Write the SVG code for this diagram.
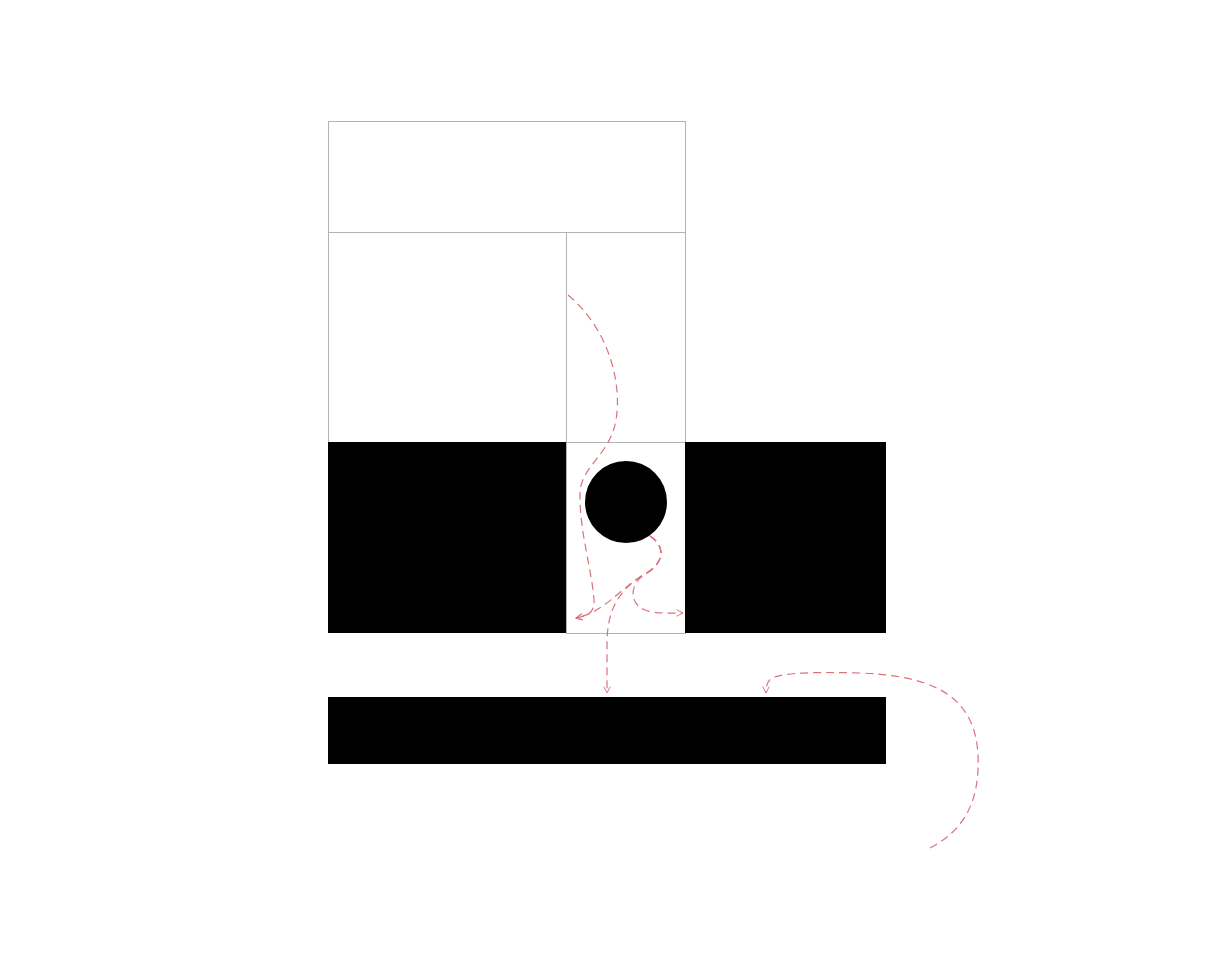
<svg xmlns="http://www.w3.org/2000/svg" width="1216" height="960" viewBox="0 0 1216 960">
<style>
.box{fill:#fff;stroke:#b3b3b3;stroke-width:1}
.blk{fill:#000;stroke:none}
.con{fill:none;stroke:#d9737c;stroke-width:1.2;stroke-dasharray:8 5}
</style>
<defs>
<marker id="arr" viewBox="0 0 10 10" refX="9" refY="5" markerWidth="8" markerHeight="8" orient="auto" markerUnits="userSpaceOnUse">
<path d="M1,1 L9,5 L1,9" fill="none" stroke="#d9737c" stroke-width="1.2"/>
</marker>
</defs>
<rect width="1216" height="960" fill="#fff"/>
<g id="top"><rect class="box" x="328.5" y="121.5" width="357" height="111"/></g>
<g id="midLeft"><rect class="box" x="328.5" y="232.5" width="238" height="210"/></g>
<g id="midRight"><rect class="box" x="566.5" y="232.5" width="119" height="210"/></g>
<g id="blackLeft"><rect class="blk" x="328" y="442" width="238" height="191"/></g>
<g id="cell"><rect class="box" x="566.5" y="442.5" width="119" height="191"/></g>
<g id="blackRight"><rect class="blk" x="685" y="442" width="201" height="191"/></g>
<g id="circle"><circle class="blk" cx="626" cy="502" r="41"/></g>
<g id="bar"><rect class="blk" x="328" y="697" width="558" height="67"/></g>
<g id="connectors">
<path class="con" d="M568,295 C610,330 622,385 616,420 C610,455 582,465 580,492 C579,530 592,570 594,600 C595,612 588,616 576,618" marker-end="url(#arr)"/>
<path class="con" d="M650,536 C668,548 662,565 645,574 C620,588 605,612 576,618" marker-end="url(#arr)"/>
<path class="con" d="M650,536 C668,548 662,565 645,574 C618,590 608,610 607,640 L607,693" marker-end="url(#arr)"/>
<path class="con" d="M650,536 C668,548 662,565 645,574 C630,584 628,603 645,610 C655,614 670,613 683,613" marker-end="url(#arr)"/>
<path class="con" d="M930,848 C965,830 980,800 978,755 C975,700 940,676 860,673 C820,672 785,672 772,678 C766,682 766,688 766,693" marker-end="url(#arr)"/>
</g>
</svg>
